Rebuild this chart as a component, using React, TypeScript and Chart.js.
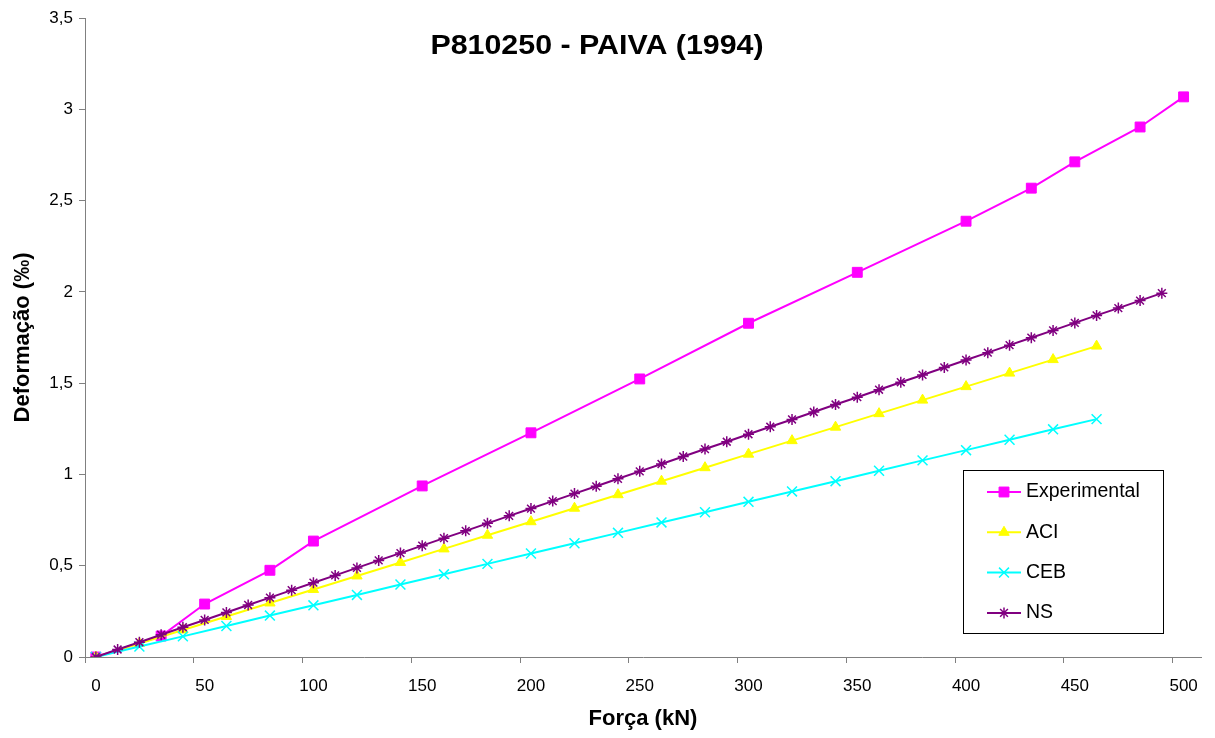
import React, { useEffect, useRef } from 'react';
import { Chart, registerables } from 'chart.js';
import { drawPoint } from 'chart.js/helpers';

Chart.register(...registerables);

const chartTitle = 'P810250 - PAIVA (1994)';
const xAxisTitle = 'Força (kN)';
const yAxisTitle = 'Deformação (‰)';

// Experimental strain readings (force in kN, strain in ‰)
const experimentalForce = [0, 30, 50, 80, 100, 150, 200, 250, 300, 350, 400, 430, 450, 480, 500];
const experimentalStrain = [0, 0.115, 0.29, 0.475, 0.635, 0.937, 1.228, 1.523, 1.828, 2.107, 2.387, 2.568, 2.712, 2.903, 3.068];

// NS prediction, every 10 kN
const nsForce = [
  0, 10, 20, 30, 40, 50, 60, 70, 80, 90,
  100, 110, 120, 130, 140, 150, 160, 170, 180, 190,
  200, 210, 220, 230, 240, 250, 260, 270, 280, 290,
  300, 310, 320, 330, 340, 350, 360, 370, 380, 390,
  400, 410, 420, 430, 440, 450, 460, 470, 480, 490,
];
const nsStrain = [
  0, 0.041, 0.081, 0.122, 0.163, 0.203, 0.244, 0.285, 0.325, 0.366,
  0.407, 0.447, 0.488, 0.529, 0.569, 0.61, 0.651, 0.691, 0.732, 0.773,
  0.813, 0.854, 0.895, 0.935, 0.976, 1.017, 1.057, 1.098, 1.139, 1.179,
  1.22, 1.261, 1.301, 1.342, 1.383, 1.423, 1.464, 1.505, 1.545, 1.586,
  1.627, 1.667, 1.708, 1.749, 1.789, 1.83, 1.871, 1.911, 1.952, 1.993,
];

// ACI and CEB predictions, every 20 kN
const codeForce = [
  0, 20, 40, 60, 80, 100, 120, 140, 160, 180, 200, 220,
  240, 260, 280, 300, 320, 340, 360, 380, 400, 420, 440, 460,
];
const aciStrain = [
  0, 0.074, 0.148, 0.222, 0.296, 0.37, 0.444, 0.518, 0.592, 0.667, 0.741, 0.815,
  0.889, 0.963, 1.037, 1.111, 1.185, 1.259, 1.333, 1.407, 1.481, 1.555, 1.629, 1.703,
];
const cebStrain = [
  0, 0.057, 0.113, 0.17, 0.227, 0.283, 0.34, 0.397, 0.453, 0.51, 0.567, 0.623,
  0.68, 0.737, 0.793, 0.85, 0.907, 0.963, 1.02, 1.077, 1.133, 1.19, 1.247, 1.303,
];

const xTickValues = [0, 50, 100, 150, 200, 250, 300, 350, 400, 450, 500];
const xTickLabels = ['0', '50', '100', '150', '200', '250', '300', '350', '400', '450', '500'];
const yTickValues = [0, 0.5, 1, 1.5, 2, 2.5, 3, 3.5];
const yTickLabels = ['0', '0,5', '1', '1,5', '2', '2,5', '3', '3,5'];

const FONT = 'Liberation Sans, Arial, Helvetica, sans-serif';
const AXIS_GREY = '#808080';

type Series = {
  label: string;
  xs: number[];
  ys: number[];
  color: string;
  pointStyle: string;
  radius: number;
  pointBorderWidth: number;
  order: number;
};

const series: Series[] = [
  { label: 'Experimental', xs: experimentalForce, ys: experimentalStrain, color: '#FF00FF', pointStyle: 'rect', radius: 7, pointBorderWidth: 1, order: 4 },
  { label: 'ACI', xs: codeForce, ys: aciStrain, color: '#FFFF00', pointStyle: 'triangle', radius: 6, pointBorderWidth: 1, order: 3 },
  { label: 'CEB', xs: codeForce, ys: cebStrain, color: '#00FFFF', pointStyle: 'crossRot', radius: 7, pointBorderWidth: 1.5, order: 2 },
  { label: 'NS', xs: nsForce, ys: nsStrain, color: '#800080', pointStyle: 'star', radius: 5.5, pointBorderWidth: 1.5, order: 1 },
];

// Tick marks sit a few kN left of their labels on the force axis
const X_TICK_SHIFT = 5;

const overlayPlugin = {
  id: 'titleAndLegend',
  afterDraw(chart: any) {
    const ctx: CanvasRenderingContext2D = chart.ctx;
    ctx.save();

    // Chart title, slightly widened
    ctx.fillStyle = '#000';
    ctx.font = `bold 27px ${FONT}`;
    ctx.textAlign = 'center';
    ctx.textBaseline = 'middle';
    ctx.save();
    ctx.translate(597, 47);
    ctx.scale(1.125, 1);
    ctx.fillText(chartTitle, 0, 0);
    ctx.restore();

    // Legend box
    const box = { left: 963, top: 470, width: 200, height: 163 };
    ctx.fillStyle = '#fff';
    ctx.fillRect(box.left, box.top, box.width, box.height);
    ctx.strokeStyle = '#000';
    ctx.lineWidth = 1;
    ctx.strokeRect(box.left + 0.5, box.top + 0.5, box.width, box.height);

    const rowStart = box.top + 22;
    const rowStep = 40.3;
    series.forEach((s, i) => {
      const y = rowStart + i * rowStep;
      ctx.strokeStyle = s.color;
      ctx.lineWidth = 2;
      ctx.beginPath();
      ctx.moveTo(987, y);
      ctx.lineTo(1021, y);
      ctx.stroke();

      ctx.fillStyle = s.color;
      ctx.strokeStyle = s.color;
      ctx.lineWidth = s.pointBorderWidth;
      drawPoint(ctx, { pointStyle: s.pointStyle as any, radius: s.radius, borderWidth: s.pointBorderWidth, rotation: 0 }, 1004, y);

      ctx.fillStyle = '#000';
      ctx.font = `19.5px ${FONT}`;
      ctx.textAlign = 'left';
      ctx.textBaseline = 'middle';
      ctx.fillText(s.label, 1026, y);
    });

    ctx.restore();
  },
};

export default function App() {
  const canvasRef = useRef<HTMLCanvasElement | null>(null);

  useEffect(() => {
    if (!canvasRef.current) return;
    const chart = new Chart(canvasRef.current, {
      type: 'scatter',
      data: {
        datasets: series.map((s) => ({
          label: s.label,
          data: s.xs.map((x, i) => ({ x, y: s.ys[i] })),
          showLine: true,
          borderColor: s.color,
          backgroundColor: s.color,
          borderWidth: 2,
          pointStyle: s.pointStyle as any,
          pointRadius: s.radius,
          pointBorderWidth: s.pointBorderWidth,
          pointBorderColor: s.color,
          pointBackgroundColor: s.color,
          order: s.order,
          tension: 0,
        })),
      },
      options: {
        animation: false,
        responsive: true,
        maintainAspectRatio: false,
        layout: { padding: { top: 18, right: 14, left: 0, bottom: 0 } },
        plugins: {
          legend: { display: false },
          title: { display: false },
          tooltip: { enabled: false },
        },
        scales: {
          x: {
            type: 'linear',
            min: -X_TICK_SHIFT,
            max: 508,
            afterBuildTicks: (scale: any) => {
              scale.ticks = xTickValues.map((v) => ({ value: v - X_TICK_SHIFT }));
            },
            afterFit: (scale: any) => {
              scale.height = 81;
            },
            ticks: {
              autoSkip: false,
              maxRotation: 0,
              labelOffset: 10.9,
              padding: 13,
              color: '#000',
              font: { family: FONT, size: 17 },
              callback: (_v: any, index: number) => xTickLabels[index],
            },
            grid: { drawOnChartArea: false, tickLength: 6, color: AXIS_GREY, tickWidth: 1 },
            border: { color: AXIS_GREY, width: 1 },
            title: {
              display: true,
              text: xAxisTitle,
              color: '#000',
              font: { family: FONT, size: 22, weight: 'bold' },
              padding: { top: 0, bottom: 6 },
            },
          },
          y: {
            type: 'linear',
            min: 0,
            max: 3.5,
            afterBuildTicks: (scale: any) => {
              scale.ticks = yTickValues.map((v) => ({ value: v }));
            },
            afterFit: (scale: any) => {
              scale.width = 85;
            },
            ticks: {
              autoSkip: false,
              padding: 6,
              color: '#000',
              font: { family: FONT, size: 17 },
              callback: (_v: any, index: number) => yTickLabels[index],
            },
            grid: { drawOnChartArea: false, tickLength: 6, color: AXIS_GREY, tickWidth: 1 },
            border: { color: AXIS_GREY, width: 1 },
            title: {
              display: true,
              text: yAxisTitle,
              color: '#000',
              font: { family: FONT, size: 22, weight: 'bold' },
              padding: { top: 10, bottom: 0 },
            },
          },
        },
      },
      plugins: [overlayPlugin],
    });
    return () => chart.destroy();
  }, []);

  return (
    <div style={{ position: 'fixed', left: 0, top: 0, width: 1215, height: 738, background: '#fff' }}>
      <canvas ref={canvasRef} />
    </div>
  );
}
